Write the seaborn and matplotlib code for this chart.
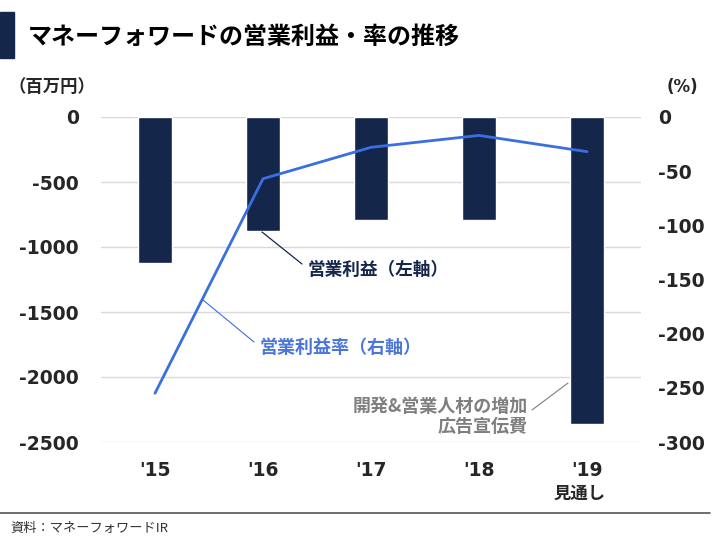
import numpy as np
import pandas as pd
import matplotlib
matplotlib.use("Agg")
import matplotlib.pyplot as plt
import seaborn as sns
from matplotlib.patches import Rectangle

sns.set_theme(style="white")
plt.rcParams['font.family'] = ['Noto Sans CJK JP', 'DejaVu Sans']

# data
years = ["'15", "'16", "'17", "'18", "'19"]
op_profit = [-1120, -880, -790, -790, -2360]      # 百万円 (left axis)
op_margin = [-255, -57, -28, -17, -32]            # % (right axis)

NAVY = "#15264b"
BLUE = "#3a6fe2"
NUM_FONT = ['DejaVu Sans', 'Noto Sans CJK JP']

df = pd.DataFrame({"year": years, "profit": op_profit, "margin": op_margin})
df["pos"] = np.arange(len(df))

fig = plt.figure(figsize=(7.2, 5.4), dpi=100)
ax = fig.add_axes([101 / 720, 1 - 442 / 540, 540 / 720, 325 / 540])

sns.barplot(data=df, x="year", y="profit", color=NAVY, width=0.31,
            saturation=1, ax=ax, zorder=2)
ax.set_ylim(-2500, 0)
ax.set_xlim(-0.5, 4.5)
ax.set_yticks([0, -500, -1000, -1500, -2000, -2500])
ax.set_yticklabels(["0", "-500", "-1000", "-1500", "-2000", "-2500"],
                   fontsize=13.5, fontweight="bold", family=NUM_FONT)
ax.set_xticks(range(len(years)))
ax.set_xticklabels(years, fontsize=13.5, fontweight="bold", family=NUM_FONT)
ax.tick_params(axis="both", length=0, pad=14)
ax.tick_params(axis="y", pad=16)
ax.grid(axis="y", color="#d9d9d9", linewidth=1, zorder=0)
ax.set_axisbelow(True)
ax.set_xlabel("")
ax.set_ylabel("")
for s in ax.spines.values():
    s.set_visible(False)

ax2 = ax.twinx()
sns.lineplot(data=df, x="pos", y="margin", color=BLUE, linewidth=2, ax=ax2)
ax2.set_ylim(-300, 0)
ax2.set_xlim(-0.5, 4.5)
ax2.set_yticks([0, -50, -100, -150, -200, -250, -300])
ax2.set_yticklabels(["0", "-50", "-100", "-150", "-200", "-250", "-300"],
                    fontsize=13.5, fontweight="bold", family=NUM_FONT)
ax2.tick_params(axis="y", length=0, pad=12)
ax2.set_ylabel("")
ax2.set_xlabel("")
for s in ax2.spines.values():
    s.set_visible(False)

# header
fig.patches.append(Rectangle((0, 1 - 58 / 540), 14 / 720, 46 / 540,
                             transform=fig.transFigure, color=NAVY))
fig.text(28 / 720, 1 - 37 / 540, "マネーフォワードの営業利益・率の推移",
         fontsize=17.3, fontweight="bold", va="center", color="black")
fig.text(8 / 720, 1 - 87 / 540, "（百万円）", fontsize=12.5, fontweight="bold",
         va="center")
fig.text(698 / 720, 1 - 87 / 540, "(%)", fontsize=12, fontweight="bold",
         va="center", ha="right", family=NUM_FONT)

# x sub label
fig.text(580 / 720, 1 - 494 / 540, "見通し", fontsize=12.5, fontweight="bold",
         va="center", ha="center")

# annotations (pixel coords of the figure)
def px(x, y):
    return (x / 720, 1 - y / 540)

fig.add_artist(plt.Line2D([262 / 720, 302 / 720], [1 - 232 / 540, 1 - 264 / 540],
                          color=NAVY, linewidth=0.9))
fig.text(*px(308, 270), "営業利益（左軸）", fontsize=12.7, fontweight="bold",
         color=NAVY, va="center")
fig.add_artist(plt.Line2D([203 / 720, 254 / 720], [1 - 300 / 540, 1 - 342 / 540],
                          color=BLUE, linewidth=0.8))
fig.text(*px(260, 347), "営業利益率（右軸）", fontsize=13, fontweight="bold",
         color="#4a76db", va="center")
fig.add_artist(plt.Line2D([568 / 720, 532 / 720], [1 - 383 / 540, 1 - 410 / 540],
                          color="#808080", linewidth=0.8))
fig.text(*px(528, 406), "開発&営業人材の増加", fontsize=13, fontweight="bold",
         color="#7f7f7f", va="center", ha="right")
fig.text(*px(528, 426), "広告宣伝費", fontsize=13, fontweight="bold",
         color="#7f7f7f", va="center", ha="right")

# footer
fig.add_artist(plt.Line2D([0, 710 / 720], [1 - 513 / 540, 1 - 513 / 540],
                          color="#555555", linewidth=1.2))
fig.text(*px(10, 528), "資料：マネーフォワードIR", fontsize=9.5,
         color="#333333", va="center")

fig.savefig("out.png", dpi=100)
